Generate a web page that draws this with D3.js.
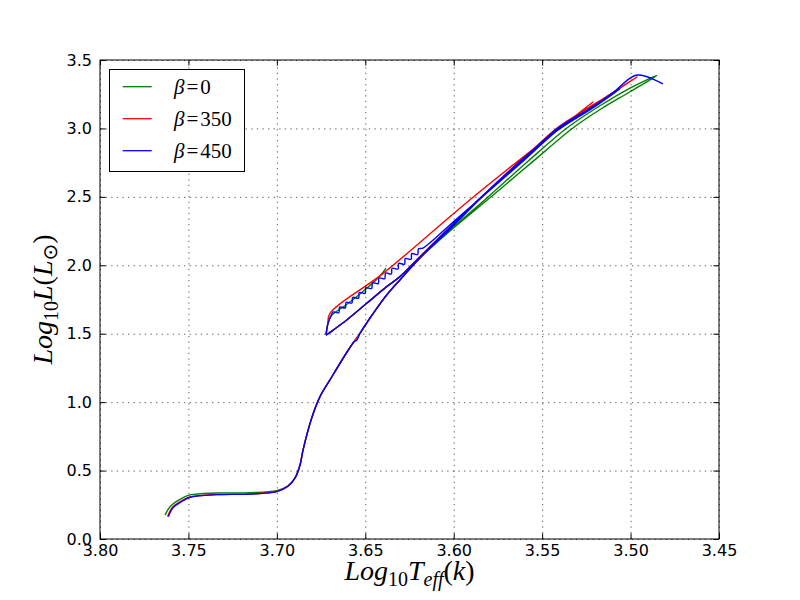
<!DOCTYPE html>
<html lang="en">
<head>
<meta charset="UTF-8">
<title>HR diagram tracks</title>
<script src="https://d3js.org/d3.v7.min.js"></script>
<style>
  body { margin: 0; background: #fff; }
  .tick text { font-family: "DejaVu Sans", sans-serif; font-size: 16px; fill: #000; }
</style>
</head>
<body>
<script>
// tick values and legend labels
var xTicks = [3.80, 3.75, 3.70, 3.65, 3.60, 3.55, 3.50, 3.45];
var yTicks = [0.0, 0.5, 1.0, 1.5, 2.0, 2.5, 3.0, 3.5];
var betas = ["0", "350", "450"];

// tracks: [log Teff, log L]
var track0 = [
  [3.7632,0.175],[3.7604,0.236],[3.7548,0.289],[3.7491,0.322],[3.7340,0.336],[3.7152,0.338],
  [3.7001,0.353],[3.6937,0.388],[3.6897,0.446],[3.6869,0.541],[3.6852,0.650],[3.6801,0.891],
  [3.6756,1.040],[3.6700,1.162],[3.6596,1.381],[3.6530,1.503],[3.6455,1.649],[3.6379,1.783],
  [3.6304,1.893],[3.6191,2.053],[3.6000,2.280],[3.5806,2.499],[3.5580,2.760],[3.5360,3.003],
  [3.5180,3.160],[3.5003,3.295],[3.4851,3.387],
  [3.5003,3.268],[3.5170,3.140],[3.5326,3.003],[3.5560,2.750],[3.5790,2.499],[3.5990,2.285],
  [3.6174,2.075],[3.6304,1.917],[3.6379,1.844],[3.6492,1.722],[3.6605,1.600],[3.6681,1.527],
  [3.6710,1.500],[3.6720,1.492],[3.6719,1.520],
  [3.6712,1.570],[3.6694,1.629],[3.6620,1.700],[3.6558,1.761],[3.6480,1.845],[3.6417,1.922],
  [3.6383,1.980]
];
var track350 = [
  [3.7618,0.165],[3.7590,0.232],[3.7535,0.282],[3.7491,0.307],[3.7340,0.325],[3.7152,0.329],
  [3.7001,0.347],[3.6937,0.386],[3.6897,0.446],[3.6869,0.541],[3.6852,0.650],[3.6801,0.891],
  [3.6756,1.040],[3.6700,1.162],[3.6596,1.381],[3.6530,1.503],[3.6455,1.649],[3.6379,1.783],
  [3.6304,1.893],[3.6191,2.053],[3.6020,2.270],[3.5840,2.499],[3.5620,2.760],[3.5416,3.003],
  [3.5173,3.200],[3.4964,3.376],
  [3.5116,3.250],[3.5427,2.985],[3.5850,2.490],[3.6191,2.065],[3.6304,1.917],[3.6379,1.844],
  [3.6492,1.722],[3.6605,1.600],[3.6681,1.527],[3.6710,1.500],[3.6720,1.492],[3.6719,1.520],
  [3.6712,1.570],[3.6700,1.649],[3.6399,1.941],[3.5889,2.499],[3.5211,3.195]
];
var track450 = [
  [3.7614,0.163],[3.7586,0.230],[3.7530,0.280],[3.7491,0.305],[3.7340,0.324],[3.7152,0.328],
  [3.7001,0.346],[3.6937,0.385],[3.6897,0.446],[3.6869,0.541],[3.6852,0.650],[3.6801,0.891],
  [3.6756,1.040],[3.6700,1.162],[3.6596,1.381],[3.6560,1.446],[3.6548,1.452],[3.6530,1.503],
  [3.6455,1.649],[3.6379,1.783],
  [3.6304,1.893],[3.6191,2.053],[3.6020,2.265],[3.5840,2.499],[3.5620,2.755],[3.5410,3.003],
  [3.5173,3.190],[3.5060,3.290],
  [3.5200,3.160],[3.5440,2.960],[3.5860,2.480],[3.6191,2.060],[3.6304,1.917],[3.6379,1.844],
  [3.6492,1.722],[3.6605,1.600],[3.6681,1.527],[3.6710,1.500],[3.6720,1.492],[3.6719,1.520],
  [3.6712,1.570],[3.6694,1.629],
  [3.6682,1.659],[3.6650,1.653],[3.6645,1.694],[3.6613,1.689],[3.6608,1.730],[3.6576,1.724],
  [3.6571,1.765],[3.6538,1.760],[3.6534,1.801],[3.6501,1.795],[3.6497,1.836],[3.6464,1.831],
  [3.6459,1.872],[3.6427,1.866],[3.6422,1.907],[3.6390,1.902],[3.6385,1.943],[3.6353,1.937],
  [3.6348,1.978],[3.6315,1.973],[3.6311,2.014],[3.6278,2.008],[3.6274,2.049],[3.6241,2.044],
  [3.6237,2.085],[3.6204,2.079],[3.6199,2.120],[3.6174,2.126],
  [3.6000,2.320],[3.5830,2.510],[3.5600,2.770],[3.5400,3.000],[3.5200,3.170],[3.5100,3.260],
  [3.4964,3.390],[3.4817,3.325]
];

var tracks = [track0, track350, track450];
var colors = ["#008000", "#ff0000", "#0000ff"];

var W = 800, H = 600;
var pL = 100, pR = 719, pT = 60, pB = 539;

var svg = d3.select("body").append("svg")
    .attr("width", W)
    .attr("height", H);

var x = d3.scaleLinear().domain([3.80, 3.45]).range([pL, pR]);
var y = d3.scaleLinear().domain([0, 3.5]).range([pB, pT]);

// tracks
var line = d3.line()
    .x(function (d) { return x(d[0]); })
    .y(function (d) { return y(d[1]); })
    .curve(d3.curveCatmullRom.alpha(0.5));

tracks.forEach(function (t, i) {
    svg.append("path")
        .attr("d", line(t))
        .attr("fill", "none")
        .attr("stroke", colors[i])
        .attr("stroke-width", 1.4)
        .attr("stroke-linejoin", "round");
});

// dotted grid (drawn over the lines, like the original)
var gx = svg.append("g")
    .attr("transform", "translate(0," + pB + ")")
    .call(d3.axisBottom(x).tickValues(xTicks).tickSize(-(pB - pT)).tickFormat(""));
var gy = svg.append("g")
    .attr("transform", "translate(" + pL + ",0)")
    .call(d3.axisLeft(y).tickValues(yTicks).tickSize(-(pR - pL)).tickFormat(""));
[gx, gy].forEach(function (g) {
    g.select(".domain").remove();
    g.selectAll("line")
        .attr("stroke", "#000")
        .attr("stroke-width", 0.6)
        .attr("stroke-dasharray", "1.4,4.2");
});

// axes with inward ticks
var tk = 5.6;
var ax = svg.append("g")
    .attr("transform", "translate(0," + pB + ")")
    .call(d3.axisBottom(x).tickValues(xTicks).tickFormat(d3.format(".2f"))
        .tickSizeInner(-tk).tickSizeOuter(0).tickPadding(6));
var ay = svg.append("g")
    .attr("transform", "translate(" + pL + ",0)")
    .call(d3.axisLeft(y).tickValues(yTicks).tickFormat(d3.format(".1f"))
        .tickSizeInner(-tk).tickSizeOuter(0).tickPadding(8));
var at = svg.append("g")
    .attr("transform", "translate(0," + pT + ")")
    .call(d3.axisTop(x).tickValues(xTicks).tickFormat("").tickSizeInner(-tk).tickSizeOuter(0));
var ar = svg.append("g")
    .attr("transform", "translate(" + pR + ",0)")
    .call(d3.axisRight(y).tickValues(yTicks).tickFormat("").tickSizeInner(-tk).tickSizeOuter(0));
[ax, ay, at, ar].forEach(function (g) {
    g.select(".domain").remove();
    g.selectAll("line").attr("stroke", "#000").attr("stroke-width", 1);
});

svg.append("rect")
    .attr("x", pL).attr("y", pT)
    .attr("width", pR - pL).attr("height", pB - pT)
    .attr("fill", "none").attr("stroke", "#000").attr("stroke-width", 1);

// axis labels
var serif = "'Liberation Serif', 'DejaVu Serif', serif";
var xl = svg.append("text")
    .attr("x", (pL + pR) / 2).attr("y", 580)
    .attr("text-anchor", "middle")
    .attr("font-family", serif).attr("font-size", 28);
xl.append("tspan").attr("font-style", "italic").text("Log");
xl.append("tspan").attr("font-size", 20).attr("dy", 6).text("10");
xl.append("tspan").attr("font-style", "italic").attr("dy", -6).text("T");
xl.append("tspan").attr("font-style", "italic").attr("font-size", 20).attr("dy", 6).text("eff");
xl.append("tspan").attr("dy", -6).text("(");
xl.append("tspan").attr("font-style", "italic").text("k");
xl.append("tspan").text(")");

var yl = svg.append("text")
    .attr("transform", "translate(52," + (pT + pB) / 2 + ") rotate(-90)")
    .attr("text-anchor", "middle")
    .attr("font-family", serif).attr("font-size", 28);
yl.append("tspan").attr("font-style", "italic").text("Log");
yl.append("tspan").attr("font-size", 20).attr("dy", 6).text("10");
yl.append("tspan").attr("font-style", "italic").attr("dy", -6).text("L");
yl.append("tspan").text("(");
yl.append("tspan").attr("font-style", "italic").text("L");
yl.append("tspan").attr("font-family", "'DejaVu Sans', sans-serif").attr("font-size", 20).attr("dy", 5).text("\u2299");
yl.append("tspan").attr("dy", -5).text(")");

// legend
var lg = svg.append("g");
lg.append("rect")
    .attr("x", 109.5).attr("y", 69.5).attr("width", 135).attr("height", 102)
    .attr("fill", "#fff").attr("stroke", "#000").attr("stroke-width", 1);
betas.forEach(function (b, i) {
    var cy = 86.7 + i * 32;
    lg.append("line")
        .attr("x1", 122.7).attr("x2", 151.7).attr("y1", cy).attr("y2", cy)
        .attr("stroke", colors[i]).attr("stroke-width", 1.3);
    var t = lg.append("text")
        .attr("x", 174).attr("y", cy + 7)
        .attr("font-family", serif).attr("font-size", 21);
    t.append("tspan").attr("font-style", "italic").text("\u03b2");
    t.append("tspan").attr("dx", 2).text("=");
    t.append("tspan").attr("dx", 2).text(b);
});
</script>
</body>
</html>
